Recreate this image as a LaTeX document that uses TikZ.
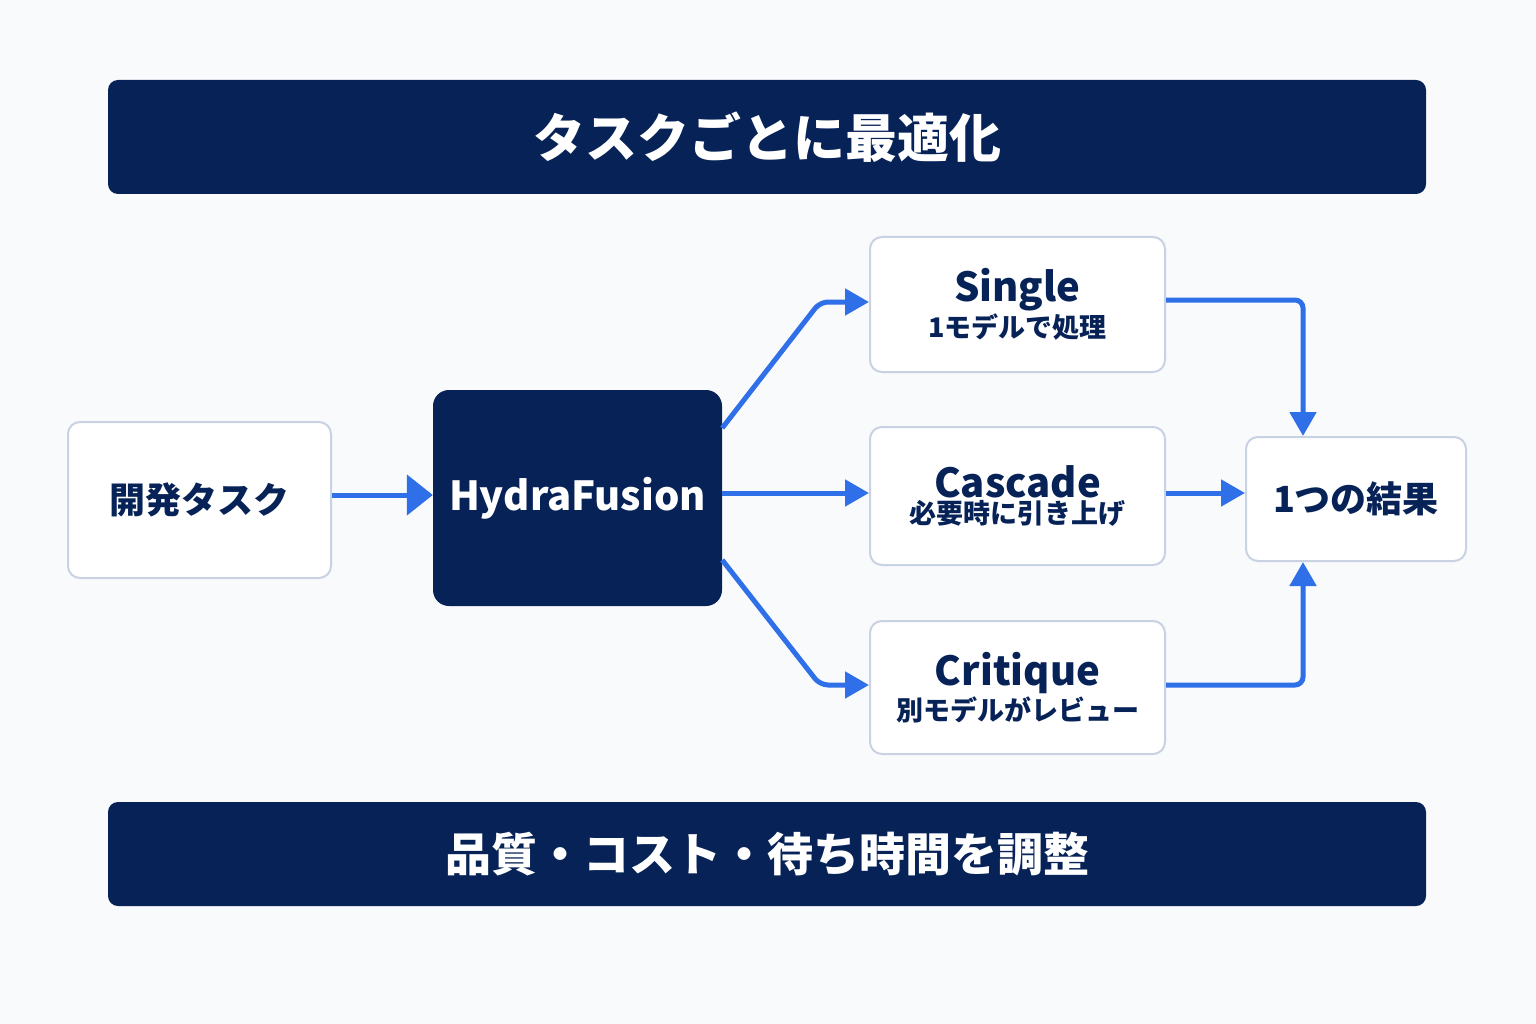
\documentclass[tikz,border=0pt]{standalone}
\usepackage{fontspec}
\setmainfont{Noto Sans CJK JP}
\usetikzlibrary{calc,arrows.meta}
\definecolor{navy}{HTML}{062257}
\definecolor{edge}{HTML}{C9D2E3}
\definecolor{blu}{HTML}{2F6FE8}
\definecolor{bg}{HTML}{F9FAFC}
\begin{document}
\begin{tikzpicture}[x=1pt,y=-1pt,
 banner/.style={fill=navy,rounded corners=10pt,text=white,font=\bfseries\fontsize{52}{60}\selectfont,inner sep=0},
 wbox/.style={fill=white,draw=edge,line width=2pt,rounded corners=12pt,align=center,text=navy,inner sep=0},
 arr/.style={draw=blu,line width=5pt,rounded corners=8pt,-{Triangle[length=24pt,width=26pt]}},
 big/.style={-{Triangle[length=26pt,width=40pt]}}]
\useasboundingbox[fill=bg] (0,0) rectangle (1536,1024);
\node[banner,minimum width=1318pt,minimum height=114pt] (top) at (767,137) {タスクごとに最適化};
\node[banner,minimum width=1318pt,minimum height=104pt,font=\bfseries\fontsize{46}{54}\selectfont] (bot) at (767,854) {品質・コスト・待ち時間を調整};
\node[wbox,minimum width=263pt,minimum height=156pt,font=\bfseries\fontsize{36}{40}\selectfont] (dev) at (199.5,500) {開発タスク};
\node[fill=navy,rounded corners=16pt,minimum width=289pt,minimum height=216pt,text=white,font=\bfseries\fontsize{40}{46}\selectfont,inner sep=0] (hf) at (577.5,498) {HydraFusion};
\node[wbox,minimum width=295pt,minimum height=135pt] (single) at (1017.5,304.5) {{\bfseries\fontsize{40}{44}\selectfont Single}\\[2pt]{\bfseries\fontsize{27}{30}\selectfont 1モデルで処理}};
\node[wbox,minimum width=295pt,minimum height=138pt] (cascade) at (1017.5,496) {{\bfseries\fontsize{40}{44}\selectfont Cascade}\\[2pt]{\bfseries\fontsize{27}{30}\selectfont 必要時に引き上げ}};
\node[wbox,minimum width=295pt,minimum height=133pt] (critique) at (1017.5,687.5) {{\bfseries\fontsize{40}{44}\selectfont Critique}\\[2pt]{\bfseries\fontsize{27}{30}\selectfont 別モデルがレビュー}};
\node[wbox,minimum width=220pt,minimum height=124pt,font=\bfseries\fontsize{36}{40}\selectfont] (res) at (1356,499) {1つの結果};
\draw[arr,big] (dev.east|-0,495) -- (hf.west|-0,495);
\draw[arr] ($(hf.east)+(0,-70)$) -- (820,302) -- (single.west|-0,302);
\draw[arr] (hf.east|-0,493) -- (cascade.west|-0,493);
\draw[arr] ($(hf.east)+(0,62)$) -- (820,685) -- (critique.west|-0,685);
\draw[arr] (single.east|-0,300) -- (1303,300) -- (res.north-|1303,0);
\draw[arr] (cascade.east|-0,493) -- (res.west|-0,493);
\draw[arr] (critique.east|-0,685) -- (1303,685) -- (res.south-|1303,0);
\end{tikzpicture}
\end{document}
